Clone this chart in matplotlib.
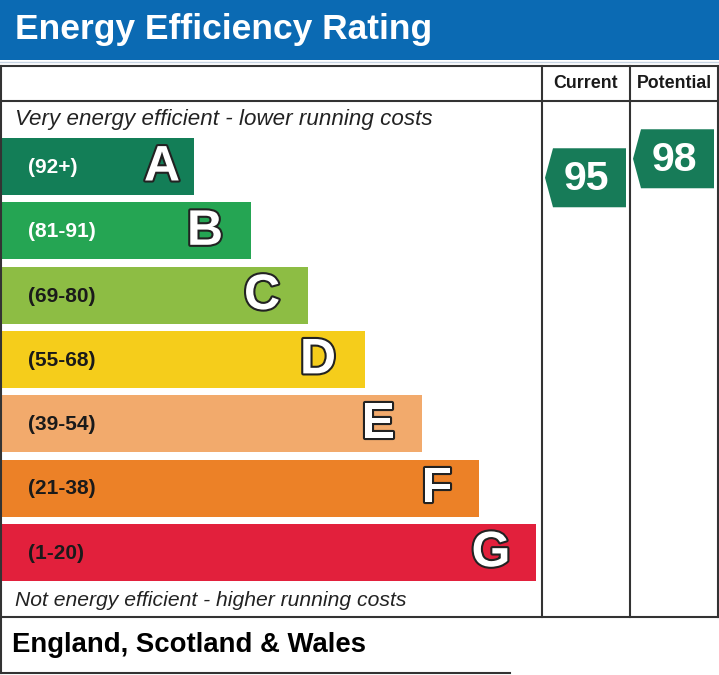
import matplotlib
matplotlib.use("Agg")
import matplotlib.pyplot as plt
from matplotlib.patches import Rectangle, Polygon
import matplotlib.patheffects as pe

plt.rcParams['font.family'] = ['Liberation Sans', 'DejaVu Sans']

# chart data
title = 'Energy Efficiency Rating'
bands = ['A', 'B', 'C', 'D', 'E', 'F', 'G']
ranges = ['(92+)', '(81-91)', '(69-80)', '(55-68)', '(39-54)', '(21-38)', '(1-20)']
band_colors = ['#137e57', '#25a553', '#8dbd44', '#f5cd1b', '#f2aa6c', '#ec8127', '#e2203c']
range_text_colors = ['white', 'white', '#1a1a1a', '#1a1a1a', '#1a1a1a', '#1a1a1a', '#1a1a1a']
columns = ['Current', 'Potential']
ratings = [95, 98]
rating_color = '#177b58'
top_note = 'Very energy efficient - lower running costs'
bottom_note = 'Not energy efficient - higher running costs'
region = 'England, Scotland & Wales'

W, H = 719, 675
fig = plt.figure(figsize=(W / 100, H / 100), dpi=100)
ax = fig.add_axes([0, 0, 1, 1])
ax.set_xlim(0, W)
ax.set_ylim(H, 0)
ax.axis('off')

# header
ax.add_patch(Rectangle((0, 0), W, 60, color='#0b6ab3', lw=0))
ax.plot([0, W], [62, 62], color='#c5d3e2', lw=1)
ax.text(15, 30, title, color='white', fontsize=25.5, fontweight='bold', va='center')

# table frame
line = dict(color='#333333', lw=1.5, solid_capstyle='projecting')
col_x = [542, 630, 718]
ax.plot([1, 718], [66, 66], **line)
ax.plot([1, 718], [101, 101], **line)
ax.plot([1, 718], [617, 617], **line)
ax.plot([1, 1], [66, 673], **line)
ax.plot([1, 510], [673, 673], **line)
for x in col_x:
    ax.plot([x, x], [66, 617], **line)

for i, name in enumerate(columns):
    ax.text((col_x[i] + col_x[i + 1]) / 2, 84, name, fontsize=12.8, fontweight='bold',
            ha='center', va='center', color='#1a1a1a')

ax.text(15, 120, top_note, fontsize=16.1, style='italic', va='center', color='#222222')
ax.text(15, 600, bottom_note, fontsize=15.2, style='italic', va='center', color='#222222')
ax.text(12, 645, region, fontsize=19.8, fontweight='bold', va='center', color='black')

# rating bands
step, bh = 64.3, 57
letter_offset = [32, 46, 46, 47, 44, 42, 45]
for i, b in enumerate(bands):
    top = 138 + step * i
    width = 194 + 57 * i
    ax.add_patch(Rectangle((0, top), width, bh, color=band_colors[i], lw=0))
    ax.text(28, top + bh / 2 + 1, ranges[i], fontsize=15, fontweight='bold', va='center',
            color=range_text_colors[i])
    t = ax.text(width - letter_offset[i], top + bh / 2 + 1, b, fontsize=36, fontweight='bold',
                ha='center', va='center', color='white')
    t.set_path_effects([pe.withStroke(linewidth=3, foreground='#222222')])

# rating arrows, placed vertically by value inside band A
def rating_y(r):
    return 779.4 - 6.333 * r

ah = 59
for i, r in enumerate(ratings):
    left, right = col_x[i], col_x[i + 1]
    yc = rating_y(r)
    tip = left + 3
    body_l = left + 11
    body_r = right - 4
    pts = [(tip, yc), (body_l, yc - ah / 2), (body_r, yc - ah / 2),
           (body_r, yc + ah / 2), (body_l, yc + ah / 2)]
    ax.add_patch(Polygon(pts, closed=True, color=rating_color, lw=0))
    ax.text((body_l + body_r) / 2 - 3, yc + 1, str(r), fontsize=29.5, fontweight='bold',
            color='white', ha='center', va='center')

fig.savefig('out.png', dpi=100)
